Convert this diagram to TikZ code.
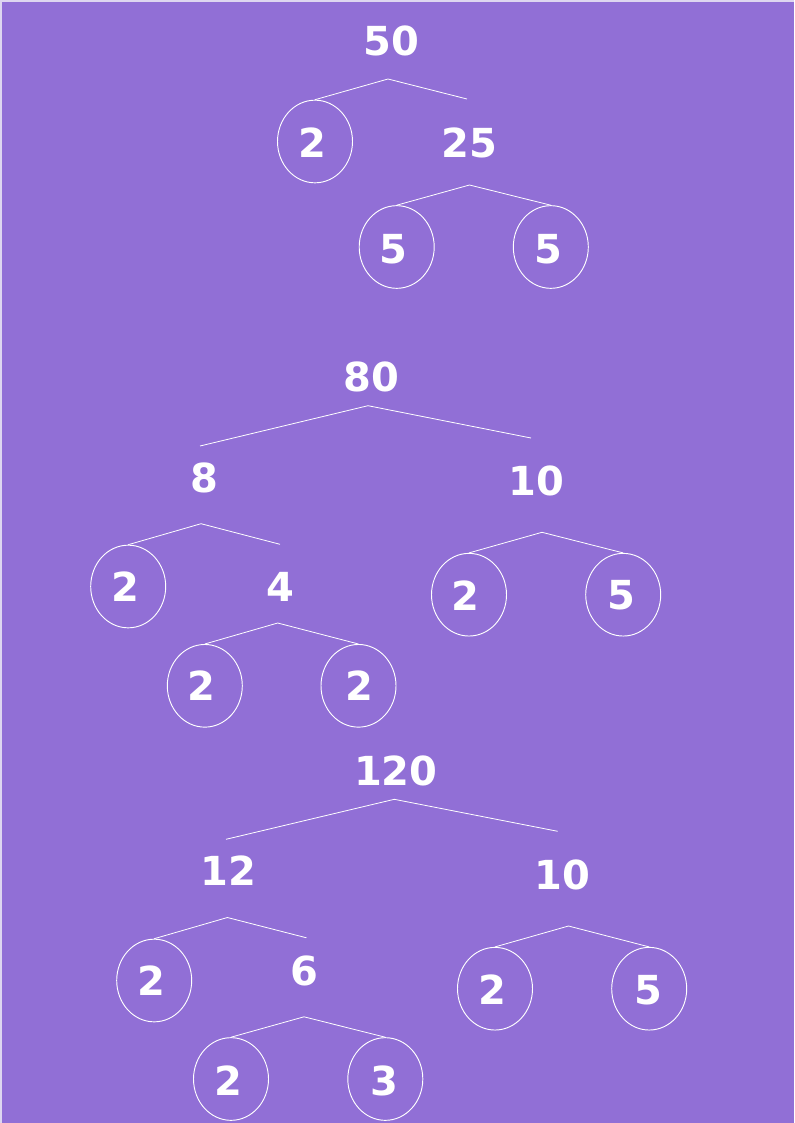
\documentclass[tikz,border=0pt]{standalone}
\usepackage{fontspec}
\usetikzlibrary{shapes.geometric}
\setmainfont{DejaVu Sans}
\definecolor{bgpurple}{RGB}{145,111,214}
\definecolor{rimcol}{RGB}{222,214,240}
\begin{document}
\begin{tikzpicture}[x=0.75pt,y=-0.75pt,
  lbl/.style={inner sep=0pt,text=white,font=\bfseries\fontsize{30}{30}\selectfont},
  num/.style={inner sep=0pt,text=white,font=\bfseries\fontsize{30}{30}\selectfont},
  circ/.style={draw=white,line width=0.7pt,ellipse,minimum width=56.25pt,minimum height=62pt,inner sep=0pt},
  edge/.style={draw=white,line width=0.6pt}]
\useasboundingbox (0,0) rectangle (794,1123);
\fill[rimcol] (0,0) rectangle (794,1123);
\fill[bgpurple] (1.5,2.2) rectangle (794,1123);

% ---------- tree 1 ----------
\node[lbl] (t50) at (391,41) {50};
\coordinate (a1) at (388,79);
\coordinate (e1) at (467,99);
\node[circ] (c1) at (315,141.5) {};
\node[num] (n1) at (312,143) {2};
\node[lbl] (t25) at (469,143) {25};
\coordinate (a2) at (469.5,185);
\node[circ] (c2) at (396.7,247) {};
\node[num] (n2) at (393,249) {5};
\node[circ] (c3) at (550.8,247) {};
\node[num] (n3) at (548,249) {5};
\draw[edge] (c1.north) -- (a1) -- (e1);
\draw[edge] (c2.north) -- (a2) -- (c3.north);

% ---------- tree 2 ----------
\node[lbl] (t80) at (371,377) {80};
\coordinate (b1) at (368,405.7);
\coordinate (b1l) at (200,446);
\coordinate (b1r) at (531,438);
\draw[edge] (b1l) -- (b1) -- (b1r);
\node[lbl] (t8) at (204,478) {8};
\coordinate (b2) at (201,523.7);
\coordinate (b2r) at (280,544.3);
\node[circ] (c4) at (128.2,586.5) {};
\node[num] (n4) at (125,587) {2};
\draw[edge] (c4.north) -- (b2) -- (b2r);
\node[lbl] (t4) at (280.5,587) {4};
\coordinate (b3) at (277.7,623);
\node[circ] (c5) at (204.8,685.8) {};
\node[num] (n5) at (201.7,686) {2};
\node[circ] (c6) at (358.5,685.8) {};
\node[num] (n6) at (359.7,686) {2};
\draw[edge] (c5.north) -- (b3) -- (c6.north);
\node[lbl] (t10) at (536.7,481) {10};
\coordinate (b4) at (542,532.3);
\node[circ] (c7) at (469,594.7) {};
\node[num] (n7) at (465.8,595.5) {2};
\node[circ] (c8) at (623.2,594.7) {};
\node[num] (n8) at (621.7,595.5) {5};
\draw[edge] (c7.north) -- (b4) -- (c8.north);

% ---------- tree 3 ----------
\node[lbl] (t120) at (395.8,771) {120};
\coordinate (d1) at (394.3,799.3);
\coordinate (d1l) at (226,839.3);
\coordinate (d1r) at (557.7,831.3);
\draw[edge] (d1l) -- (d1) -- (d1r);
\node[lbl] (t12) at (228.3,871) {12};
\coordinate (d2) at (227.4,917.5);
\coordinate (d2r) at (306.5,937.8);
\node[circ] (c9) at (154.2,980.5) {};
\node[num] (n9) at (151,981) {2};
\draw[edge] (c9.north) -- (d2) -- (d2r);
\node[lbl] (t6) at (304.4,971) {6};
\coordinate (d3) at (304,1016.8);
\node[circ] (c10) at (231,1079) {};
\node[num] (n10) at (228,1081) {2};
\node[circ] (c11) at (385.3,1079) {};
\node[num] (n11) at (384,1081) {3};
\draw[edge] (c10.north) -- (d3) -- (c11.north);
\node[lbl] (t10b) at (562.7,875) {10};
\coordinate (d4) at (568.5,926);
\node[circ] (c12) at (495,988.7) {};
\node[num] (n12) at (492,990) {2};
\node[circ] (c13) at (649.2,988.7) {};
\node[num] (n13) at (648,990) {5};
\draw[edge] (c12.north) -- (d4) -- (c13.north);
\end{tikzpicture}
\end{document}
